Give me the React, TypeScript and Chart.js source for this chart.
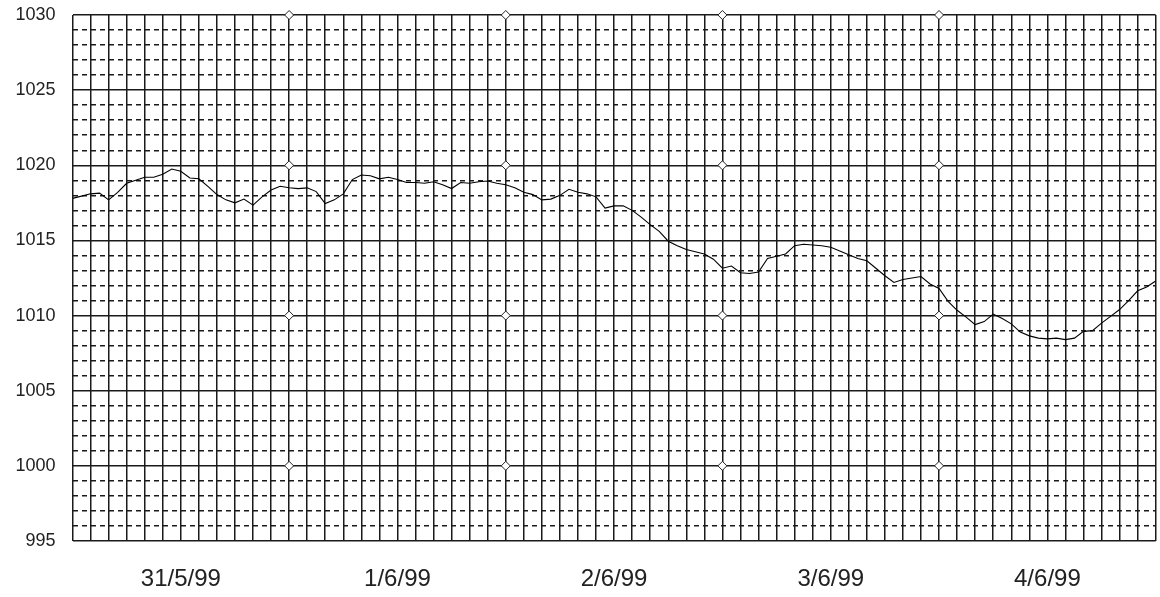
import { useEffect, useRef } from "react";
import { Chart, registerables } from "chart.js";

Chart.register(...registerables);

// Day labels, centred on midday of each day
const dayLabels = ["31/5/99", "1/6/99", "2/6/99", "3/6/99", "4/6/99"];

// Hourly barometric pressure (hPa), hour 0 = midnight 31/5/99
const pressureDay1 = [
  1017.8, 1017.95, 1018.1, 1018.15, 1017.7, 1018.2, 1018.8, 1019.0, 1019.2, 1019.2, 1019.4, 1019.75,
  1019.6, 1019.15, 1019.1, 1018.6, 1018.05, 1017.7, 1017.5, 1017.75, 1017.35, 1017.9, 1018.35, 1018.6,
];
const pressureDay2 = [
  1018.5, 1018.45, 1018.5, 1018.25, 1017.45, 1017.7, 1018.1, 1019.05, 1019.35, 1019.3, 1019.1, 1019.2,
  1019.05, 1018.85, 1018.85, 1018.8, 1018.9, 1018.7, 1018.45, 1018.85, 1018.8, 1018.9, 1018.95, 1018.8,
];
const pressureDay3 = [
  1018.7, 1018.5, 1018.2, 1018.05, 1017.7, 1017.75, 1018.0, 1018.4, 1018.2, 1018.1, 1017.9, 1017.15,
  1017.3, 1017.3, 1017.0, 1016.55, 1016.05, 1015.6, 1014.95, 1014.65, 1014.4, 1014.25, 1014.1, 1013.75,
];
const pressureDay4 = [
  1013.15, 1013.3, 1012.85, 1012.8, 1012.9, 1013.8, 1013.95, 1014.1, 1014.65, 1014.75, 1014.7, 1014.65,
  1014.55, 1014.3, 1014.05, 1013.8, 1013.65, 1013.15, 1012.65, 1012.2, 1012.4, 1012.5, 1012.6, 1012.1,
];
const pressureDay5 = [
  1011.8, 1010.95, 1010.35, 1009.9, 1009.4, 1009.6, 1010.1, 1009.8, 1009.45, 1008.9, 1008.65, 1008.5,
  1008.45, 1008.5, 1008.4, 1008.5, 1008.95, 1009.0, 1009.5, 1009.95, 1010.4, 1011.0, 1011.65, 1011.9,
  1012.3,
];

// Diamond reference markers at midnight crossings
const markerHours = [24, 48, 72, 96];
const markerLevels = [1000, 1010, 1020, 1030];

const yMin = 995;
const yMax = 1030;
const hoursTotal = 120;

const labelFont = "'Liberation Sans', Arial, sans-serif";

export default function App() {
  const canvasRef = useRef<HTMLCanvasElement | null>(null);

  useEffect(() => {
    const canvas = canvasRef.current;
    if (!canvas) return;

    const pressure = [...pressureDay1, ...pressureDay2, ...pressureDay3, ...pressureDay4, ...pressureDay5];
    const series = pressure.map((v, i) => ({ x: i, y: v }));
    const markers: { x: number; y: number }[] = [];
    markerHours.forEach((h) => markerLevels.forEach((p) => markers.push({ x: h, y: p })));

    const chart = new Chart(canvas, {
      type: "line",
      data: {
        datasets: [
          {
            data: series,
            borderColor: "#000",
            borderWidth: 1.1,
            pointRadius: 0,
            tension: 0,
            fill: false,
          },
          {
            data: markers,
            showLine: false,
            pointStyle: "rectRot",
            pointRadius: 4.5,
            pointBackgroundColor: "#fff",
            pointBorderColor: "#222",
            pointBorderWidth: 1,
            clip: false,
          } as any,
        ],
      },
      options: {
        responsive: false,
        animation: false,
        events: [],
        layout: { autoPadding: false, padding: { top: 15, right: 4.3, left: 0, bottom: 0 } },
        plugins: {
          legend: { display: false },
          tooltip: { enabled: false },
        },
        scales: {
          x: {
            type: "linear",
            min: 0,
            max: hoursTotal,
            afterFit: (scale: any) => {
              scale.height = 56;
            },
            grid: {
              color: "#1a1a1a",
              lineWidth: 1.5,
              drawTicks: true,
              tickLength: 24,
              tickColor: "rgba(0,0,0,0)",
            },
            border: { display: false },
            ticks: {
              stepSize: 2,
              autoSkip: false,
              maxRotation: 0,
              padding: 0,
              color: "#222",
              font: { family: labelFont, size: 24 },
              callback: (value: any) => {
                const v = Number(value);
                if (v % 24 === 12) return dayLabels[(v - 12) / 24];
                return "";
              },
            },
          },
          y: {
            type: "linear",
            min: yMin,
            max: yMax,
            afterFit: (scale: any) => {
              scale.width = 72.5;
            },
            grid: {
              color: "#1a1a1a",
              lineWidth: 1.5,
              drawTicks: true,
              tickLength: 17,
              tickColor: "rgba(0,0,0,0)",
            },
            border: {
              display: false,
              dash: (ctx: any) => (ctx.tick && ctx.tick.value % 5 === 0 ? [] : [5, 4]),
            },
            ticks: {
              stepSize: 1,
              autoSkip: false,
              padding: 0,
              color: "#222",
              font: { family: labelFont, size: 18 },
              callback: (value: any) => {
                const v = Number(value);
                return v % 5 === 0 ? String(v) : "";
              },
            },
          },
        },
      },
    });

    return () => chart.destroy();
  }, []);

  return (
    <div style={{ position: "absolute", left: 0, top: 0, width: 1160, height: 597, background: "#fff" }}>
      <canvas ref={canvasRef} width={1160} height={597} style={{ display: "block" }} />
    </div>
  );
}
